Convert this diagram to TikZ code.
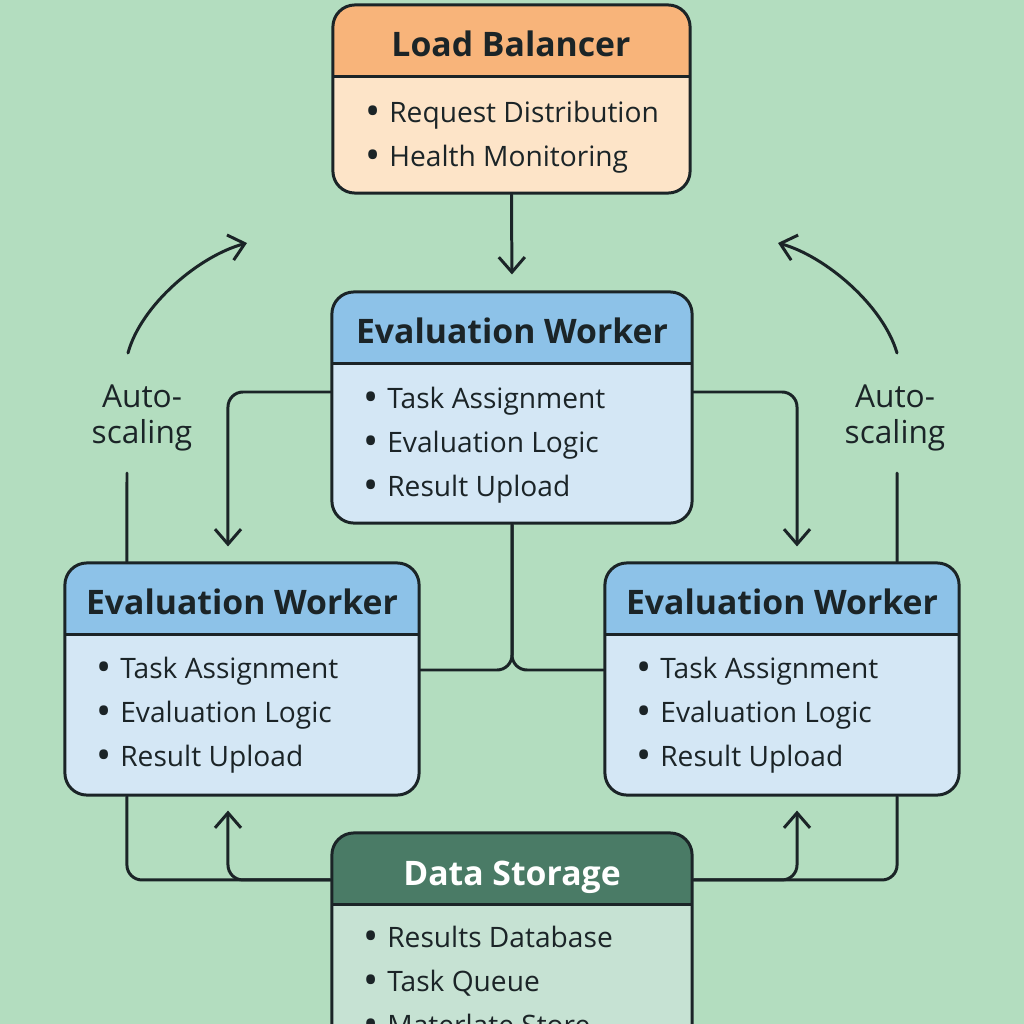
\documentclass[tikz,border=0pt]{standalone}
\usepackage{fontspec}
\setmainfont{Open Sans}
\usetikzlibrary{arrows.meta}

\definecolor{bg}{HTML}{B3DDBF}
\definecolor{ink}{HTML}{1B2427}
\definecolor{lbhead}{HTML}{F8B47A}
\definecolor{lbbody}{HTML}{FDE4C8}
\definecolor{ewhead}{HTML}{8DC2E8}
\definecolor{ewbody}{HTML}{D4E7F5}
\definecolor{dshead}{HTML}{4A7B66}
\definecolor{dsbody}{HTML}{C6E2D3}

\newcommand{\dotitem}{\raisebox{-1.1pt}{\fontsize{11.5}{9}\selectfont •}\hspace{0.3em}}

\tikzset{
  box/.style={draw=ink, line width=0.85pt, rounded corners=0.22cm, inner sep=0pt, fill=#1},
  head/.style={path picture={
    \fill[#1, sharp corners] (path picture bounding box.north west) rectangle ([yshift=-0.72cm]path picture bounding box.north east);
    \draw[ink, line width=0.85pt] ([yshift=-0.72cm]path picture bounding box.north west) -- ([yshift=-0.72cm]path picture bounding box.north east);}},
  title/.style={anchor=base, inner sep=0pt, font=\fontsize{9.6}{12}\selectfont\bfseries, text=ink},
  item/.style={anchor=base west, inner sep=0pt, font=\fontsize{8}{9}\selectfont, text=ink},
  scaling/.style={align=center, inner sep=0pt, font=\fontsize{9}{10.4}\selectfont, text=ink},
  conn/.style={draw=ink, line width=0.85pt, rounded corners=0.15cm, line cap=round},
  arr/.style={conn, -{Straight Barb[length=0.15cm, width=0.26cm]}},
}

\begin{document}
\begin{tikzpicture}[x=0.01cm, y=-0.01cm]
    \clip (0,0) rectangle (1024,1024);
    \fill[bg] (0,0) rectangle (1024,1024);

    % boxes
    \node[box=lbbody, head=lbhead, minimum width=3.57cm, minimum height=1.88cm] (lb) at (511.5,99) {};
    \node[box=ewbody, head=ewhead, minimum width=3.6cm, minimum height=2.31cm] (ewM) at (512,407.5) {};
    \node[box=ewbody, head=ewhead, minimum width=3.54cm, minimum height=2.32cm] (ewL) at (242,679) {};
    \node[box=ewbody, head=ewhead, minimum width=3.54cm, minimum height=2.32cm] (ewR) at (782,679) {};
    \node[box=dsbody, head=dshead, minimum width=3.6cm, minimum height=2.3cm] (ds) at (512,948) {};

    % titles
    \node[title] (lbT) at (511,57) {Load Balancer};
    \node[title] (ewMT) at (512,343) {Evaluation Worker};
    \node[title] (ewLT) at (242,614) {Evaluation Worker};
    \node[title] (ewRT) at (782,614) {Evaluation Worker};
    \node[title, text=white] (dsT) at (512,885) {Data Storage};

    % lists
    \node[item] (lb1) at (365,122) {\dotitem Request Distribution};
    \node[item] (lb2) at (365,166) {\dotitem Health Monitoring};
    \node[item] (ewM1) at (363,408) {\dotitem Task Assignment};
    \node[item] (ewM2) at (363,452) {\dotitem Evaluation Logic};
    \node[item] (ewM3) at (363,496) {\dotitem Result Upload};
    \node[item] (ewL1) at (96,678) {\dotitem Task Assignment};
    \node[item] (ewL2) at (96,722) {\dotitem Evaluation Logic};
    \node[item] (ewL3) at (96,766) {\dotitem Result Upload};
    \node[item] (ewR1) at (636,678) {\dotitem Task Assignment};
    \node[item] (ewR2) at (636,722) {\dotitem Evaluation Logic};
    \node[item] (ewR3) at (636,766) {\dotitem Result Upload};
    \node[item] (ds1) at (363,947) {\dotitem Results Database};
    \node[item] (ds2) at (363,991) {\dotitem Task Queue};
    \node[item] (ds3) at (363,1035) {\dotitem Materlate Store};

    % auto-scaling
    \node[scaling] (asL) at (142,418) {Auto-\\scaling};
    \node[scaling] (asR) at (895,418) {Auto-\\scaling};
    \coordinate (asLlow) at (127,473);
    \coordinate (asRlow) at (897,473);
    \coordinate (asLa) at (128,353);
    \coordinate (asLb) at (247,243);
    \coordinate (asRa) at (897,353);
    \coordinate (asRb) at (778,243);

    % connectors
    \draw[arr, shorten >=0.16cm] (lb.south) -- (ewM.north);
    \draw[arr, shorten >=0.15cm] ([yshift=0.155cm]ewM.west) -| ([xshift=-0.14cm]ewL.north);
    \draw[arr, shorten >=0.15cm] ([yshift=0.155cm]ewM.east) -| ([xshift=0.15cm]ewR.north);
    \draw[conn] (ewM.south) |- ([yshift=0.09cm]ewL.east);
    \draw[conn] (ewM.south) |- ([yshift=0.09cm]ewR.west);

    \draw[conn] ([xshift=-1.15cm]ewL.south) |- ([yshift=0.68cm]ds.west);
    \draw[arr, shorten >=0.14cm] ([yshift=0.68cm]ds.west) -| ([xshift=-0.14cm]ewL.south);
    \draw[conn] ([xshift=1.15cm]ewR.south) |- ([yshift=0.68cm]ds.east);
    \draw[arr, shorten >=0.14cm] ([yshift=0.68cm]ds.east) -| ([xshift=0.15cm]ewR.south);

    \draw[conn] ([xshift=-1.15cm]ewL.north) -- (asLlow);
    \draw[conn] ([xshift=1.15cm]ewR.north) -- (asRlow);
    \draw[arr] (asLa) .. controls (141,305) and (199,256) .. (asLb);
    \draw[arr] (asRa) .. controls (883,305) and (825,256) .. (asRb);

\end{tikzpicture}
\end{document}
